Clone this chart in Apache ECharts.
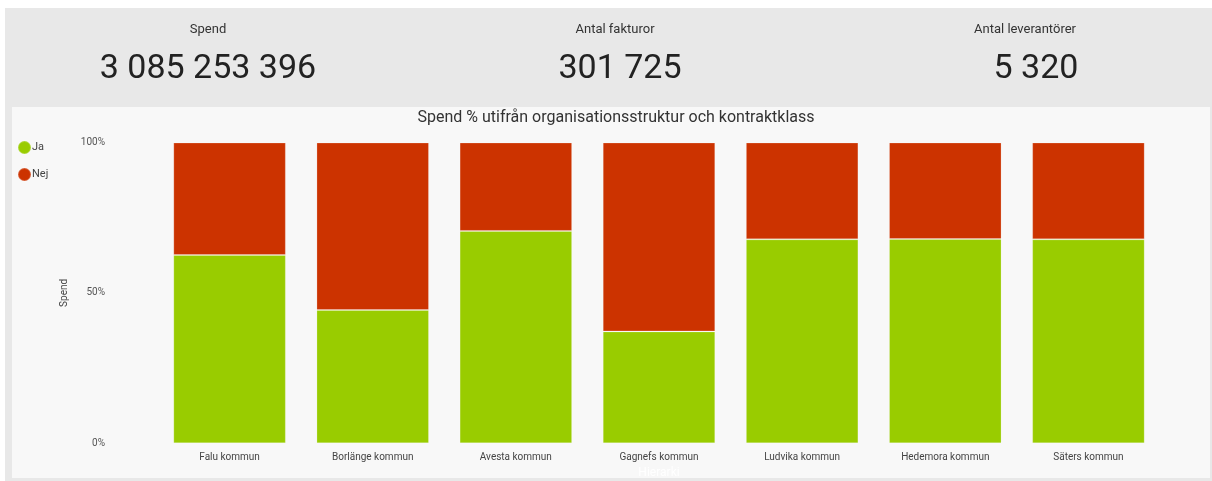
<!DOCTYPE html>
<html>
<head>
<meta charset="utf-8">
<script src="https://cdn.jsdelivr.net/npm/echarts@6/dist/echarts.min.js"></script>
<style>
  html, body { margin: 0; padding: 0; background: #fff; }
  #chart { width: 1212px; height: 481px; }
</style>
</head>
<body>
<div id="chart"></div>
<script>
// kommuner på x-axeln
const kommuner = ['Falu kommun', 'Borlänge kommun', 'Avesta kommun', 'Gagnefs kommun', 'Ludvika kommun', 'Hedemora kommun', 'Säters kommun']
// andel spend (%) per kontraktklass
const ja = [62.6, 44.3, 70.6, 37.2, 67.8, 67.9, 67.8]
const nej = [37.4, 55.7, 29.4, 62.8, 32.2, 32.1, 32.2]
// nyckeltal överst
const kpiNamn = ['Spend', 'Antal fakturor', 'Antal leverantörer']
const kpiVarden = ['3 085 253 396', '301 725', '5 320']
const kpiNamnX = [203, 610, 1020]
const kpiVardeX = [206, 618, 1034]

const font = 'Roboto, "DejaVu Sans", sans-serif'

const myCharts = echarts.init(document.getElementById('chart'))

// KPI-rubriker och värden som title-komponenter
const kpiTitles = []
kpiNamn.forEach((namn, i) => {
  kpiTitles.push({
    text: namn,
    left: kpiNamnX[i],
    top: 18,
    textAlign: 'center',
    textStyle: { fontFamily: font, fontSize: 13, fontWeight: 'normal', color: '#333' }
  })
  kpiTitles.push({
    text: kpiVarden[i],
    left: kpiVardeX[i] - 3,
    top: 47,
    textAlign: 'center',
    textStyle: { fontFamily: font, fontSize: 34, fontWeight: 'normal', color: '#222' }
  })
})

myCharts.setOption({
  backgroundColor: '#fff',
  animation: false,
  graphic: [
    { type: 'rect', z: -10, shape: { x: 5, y: 8, width: 1207, height: 473 }, style: { fill: '#e8e8e8' } },
    { type: 'rect', z: -9, shape: { x: 12, y: 107, width: 1198, height: 371 }, style: { fill: '#f8f8f8' } }
  ],
  title: [
    ...kpiTitles,
    {
      text: 'Spend % utifrån organisationsstruktur och kontraktklass',
      left: 611,
      top: 105,
      textAlign: 'center',
      textStyle: { fontFamily: font, fontSize: 16, fontWeight: 'normal', color: '#333' }
    }
  ],
  legend: {
    orient: 'vertical',
    left: 12,
    top: 135,
    itemGap: 12,
    icon: 'circle',
    itemWidth: 13,
    itemHeight: 13,
    textStyle: { fontFamily: font, fontSize: 11, color: '#444', padding: [0, 0, 0, -4] },
    data: ['Ja', 'Nej']
  },
  grid: {
    left: 158,
    right: 52,
    top: 142.5,
    bottom: 37.7,
    outerBoundsMode: 'none'
  },
  xAxis: {
    type: 'category',
    data: kommuner,
    name: 'Hierarki',
    nameLocation: 'middle',
    nameGap: 22,
    nameTextStyle: { fontFamily: font, fontSize: 12, color: '#fff' },
    axisLine: { show: false },
    axisTick: { show: false },
    axisLabel: { fontFamily: font, fontSize: 10, color: '#444', margin: 9 }
  },
  yAxis: {
    type: 'value',
    min: 0,
    max: 100,
    interval: 50,
    name: 'Spend',
    nameLocation: 'middle',
    nameGap: 84,
    nameRotate: 90,
    nameTextStyle: { fontFamily: font, fontSize: 10, color: '#444' },
    splitLine: { show: false },
    axisLine: { show: false },
    axisTick: { show: false },
    axisLabel: {
      fontFamily: font, fontSize: 10, color: '#555', margin: 53,
      formatter: v => v + '%'
    }
  },
  series: [
    {
      name: 'Ja',
      type: 'bar',
      stack: 'total',
      barCategoryGap: '21.4%',
      itemStyle: { color: '#99cc00', borderColor: 'rgba(255,255,255,0.2)', borderWidth: 1 },
      data: ja
    },
    {
      name: 'Nej',
      type: 'bar',
      stack: 'total',
      itemStyle: { color: '#cc3300', borderColor: 'rgba(255,255,255,0.2)', borderWidth: 1 },
      data: nej
    }
  ]
})
</script>
</body>
</html>
